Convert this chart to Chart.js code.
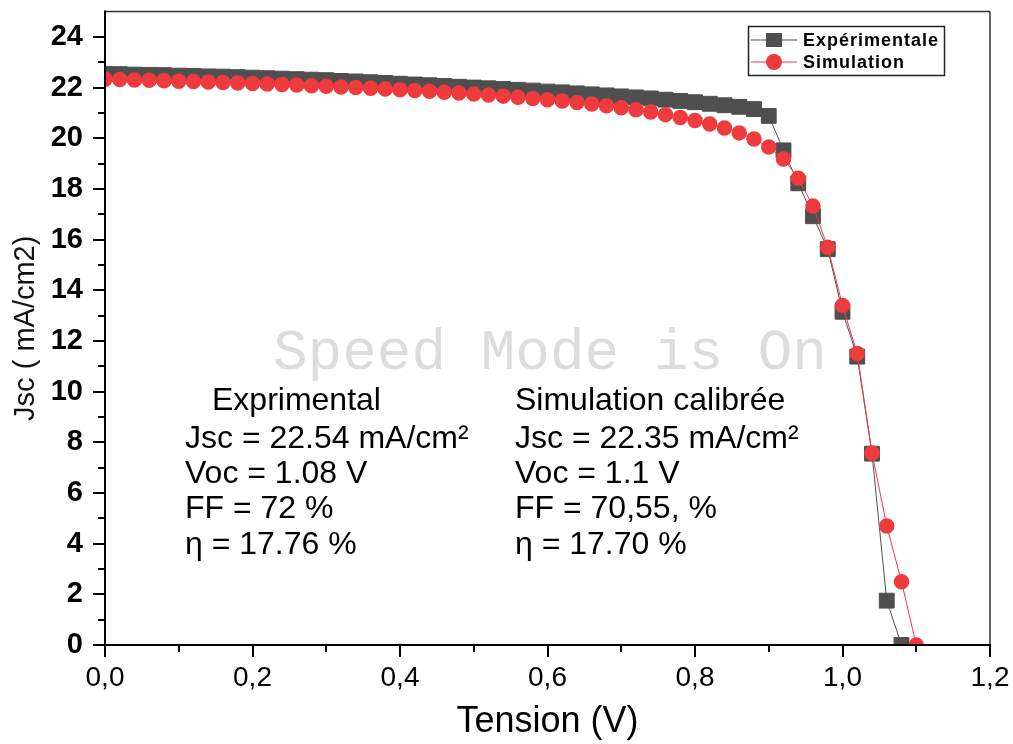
<!DOCTYPE html>
<html>
<head>
<meta charset="utf-8">
<title>Jsc - Tension</title>
<script src="https://cdn.jsdelivr.net/npm/chart.js@4.4.0/dist/chart.umd.min.js"></script>
<style>
  html, body { margin: 0; padding: 0; background: #fff; }
</style>
</head>
<body>
<canvas id="myChart" width="1013" height="744"></canvas>
<script>
const voltageExp = [0.00, 0.02, 0.04, 0.06, 0.08, 0.10, 0.12, 0.14, 0.16, 0.18,
  0.20, 0.22, 0.24, 0.26, 0.28, 0.30, 0.32, 0.34, 0.36, 0.38,
  0.40, 0.42, 0.44, 0.46, 0.48, 0.50, 0.52, 0.54, 0.56, 0.58,
  0.60, 0.62, 0.64, 0.66, 0.68, 0.70, 0.72, 0.74, 0.76, 0.78,
  0.80, 0.82, 0.84, 0.86, 0.88, 0.90, 0.92, 0.94, 0.96, 0.98,
  1.00, 1.02, 1.04, 1.06, 1.08];
const jscExp = [22.54, 22.53, 22.51, 22.50, 22.49, 22.47, 22.46, 22.44, 22.43, 22.41,
  22.39, 22.37, 22.35, 22.33, 22.31, 22.29, 22.26, 22.24, 22.21, 22.18,
  22.15, 22.12, 22.09, 22.06, 22.03, 22.00, 21.97, 21.94, 21.91, 21.88,
  21.84, 21.81, 21.77, 21.73, 21.69, 21.65, 21.61, 21.57, 21.52, 21.47,
  21.42, 21.36, 21.30, 21.24, 21.15, 20.88, 19.52, 18.22, 16.92, 15.62,
  13.15, 11.38, 7.55, 1.75, 0.00];

const voltageSim = [0.00, 0.02, 0.04, 0.06, 0.08, 0.10, 0.12, 0.14, 0.16, 0.18,
  0.20, 0.22, 0.24, 0.26, 0.28, 0.30, 0.32, 0.34, 0.36, 0.38,
  0.40, 0.42, 0.44, 0.46, 0.48, 0.50, 0.52, 0.54, 0.56, 0.58,
  0.60, 0.62, 0.64, 0.66, 0.68, 0.70, 0.72, 0.74, 0.76, 0.78,
  0.80, 0.82, 0.84, 0.86, 0.88, 0.90, 0.92, 0.94, 0.96, 0.98,
  1.00, 1.02, 1.04, 1.06, 1.08, 1.10];
const jscSim = [22.33, 22.32, 22.30, 22.29, 22.27, 22.25, 22.24, 22.22, 22.20, 22.18,
  22.16, 22.14, 22.12, 22.10, 22.07, 22.05, 22.02, 22.00, 21.97, 21.94,
  21.91, 21.88, 21.85, 21.81, 21.78, 21.74, 21.70, 21.66, 21.62, 21.57,
  21.52, 21.47, 21.41, 21.35, 21.28, 21.20, 21.12, 21.03, 20.93, 20.82,
  20.70, 20.56, 20.40, 20.21, 19.97, 19.65, 19.18, 18.42, 17.32, 15.70,
  13.40, 11.50, 7.58, 4.70, 2.50, 0.00];

const xMajorTicks = [0, 0.2, 0.4, 0.6, 0.8, 1.0, 1.2];
const xMinorTicks = [0.1, 0.3, 0.5, 0.7, 0.9, 1.1];
const yMajorTicks = [0, 2, 4, 6, 8, 10, 12, 14, 16, 18, 20, 22, 24];
const yMinorTicks = [1, 3, 5, 7, 9, 11, 13, 15, 17, 19, 21, 23];

const legendLabels = ['Expérimentale', 'Simulation'];
const expInfo = ['Exprimental', 'Jsc = 22.54 mA/cm²', 'Voc = 1.08 V', 'FF = 72 %', 'η = 17.76 %'];
const simInfo = ['Simulation calibrée', 'Jsc = 22.35 mA/cm²', 'Voc = 1.1 V', 'FF = 70,55, %', 'η = 17.70 %'];
const watermark = 'Speed Mode is On';

const GRAY = '#4f4f4f';
const RED = '#ef3b3d';
const SANS = "'Liberation Sans', Arial, sans-serif";

function toPoints(xs, ys) {
  return xs.map((v, i) => ({ x: v, y: ys[i] }));
}

function line(ctx, x1, y1, x2, y2) {
  ctx.beginPath();
  ctx.moveTo(x1, y1);
  ctx.lineTo(x2, y2);
  ctx.stroke();
}

// drop the extra room chart.js keeps for half tick labels
function noLabelPadding(scale) {
  scale.paddingTop = 0;
  scale.paddingBottom = 0;
  scale.paddingLeft = 0;
  scale.paddingRight = 0;
}

const decorPlugin = {
  id: 'decor',
  beforeDatasetsDraw(chart) {
    const ctx = chart.ctx;
    ctx.save();
    ctx.font = "58px 'Liberation Mono', 'Courier New', monospace";
    let w = ctx.measureText(watermark).width;
    let size = 58 * 554 / w;
    ctx.font = size.toFixed(1) + "px 'Liberation Mono', 'Courier New', monospace";
    ctx.fillStyle = '#dcdcdc';
    ctx.textBaseline = 'alphabetic';
    ctx.fillText(watermark, 273, 369);
    ctx.restore();
  },
  afterDraw(chart) {
    const { ctx, chartArea: area, scales: { x, y } } = chart;
    ctx.save();

    // frame: thin top/right, heavy left/bottom
    ctx.strokeStyle = '#333';
    ctx.lineWidth = 1.5;
    line(ctx, area.left, area.top, area.right, area.top);
    line(ctx, area.right, area.top, area.right, area.bottom);
    ctx.strokeStyle = '#000';
    ctx.lineWidth = 2;
    line(ctx, area.left, area.top - 1, area.left, area.bottom + 1);
    line(ctx, area.left - 1, area.bottom, area.right + 1, area.bottom);

    // outward ticks
    xMajorTicks.forEach(v => {
      const px = Math.round(x.getPixelForValue(v));
      line(ctx, px, area.bottom, px, area.bottom + 12);
    });
    xMinorTicks.forEach(v => {
      const px = Math.round(x.getPixelForValue(v));
      line(ctx, px, area.bottom, px, area.bottom + 7);
    });
    yMajorTicks.forEach(v => {
      const py = Math.round(y.getPixelForValue(v));
      line(ctx, area.left, py, area.left - 12, py);
    });
    yMinorTicks.forEach(v => {
      const py = Math.round(y.getPixelForValue(v));
      line(ctx, area.left, py, area.left - 7, py);
    });

    // legend box
    ctx.strokeStyle = '#222';
    ctx.lineWidth = 1.5;
    ctx.strokeRect(748.5, 26.5, 196, 49);
    const rows = [40, 62];
    ctx.lineWidth = 1;
    ctx.strokeStyle = GRAY;
    line(ctx, 751, rows[0], 797, rows[0]);
    ctx.fillStyle = GRAY;
    ctx.fillRect(766, rows[0] - 7, 16, 14);
    ctx.strokeStyle = RED;
    line(ctx, 751, rows[1], 797, rows[1]);
    ctx.fillStyle = RED;
    ctx.beginPath();
    ctx.arc(774, rows[1], 8, 0, Math.PI * 2);
    ctx.fill();

    ctx.fillStyle = '#000';
    ctx.font = 'bold 18px ' + SANS;
    ctx.letterSpacing = '1px';
    ctx.textBaseline = 'middle';
    legendLabels.forEach((t, i) => ctx.fillText(t, 803, rows[i] + 1));
    ctx.letterSpacing = '0px';

    // parameter blocks
    ctx.font = '32px ' + SANS;
    ctx.textBaseline = 'alphabetic';
    const baselines = [410, 448, 483, 518, 554];
    expInfo.forEach((t, i) => ctx.fillText(t, i === 0 ? 212 : 185, baselines[i]));
    simInfo.forEach((t, i) => ctx.fillText(t, 515, baselines[i]));

    ctx.restore();
  }
};

Chart.defaults.font.family = SANS;
Chart.defaults.color = '#000';

const config = {
  type: 'scatter',
  data: {
    datasets: [
      {
        label: legendLabels[0],
        data: toPoints(voltageExp, jscExp),
        showLine: true,
        borderColor: GRAY,
        borderWidth: 1,
        backgroundColor: GRAY,
        pointStyle: 'rect',
        pointRadius: 10.5,
        pointBorderWidth: 1,
        pointBorderColor: GRAY,
        pointBackgroundColor: GRAY,
        clip: 0,
        order: 2
      },
      {
        label: legendLabels[1],
        data: toPoints(voltageSim, jscSim),
        showLine: true,
        borderColor: RED,
        borderWidth: 1,
        backgroundColor: RED,
        pointStyle: 'circle',
        pointRadius: 7,
        pointBorderWidth: 1.5,
        pointBorderColor: RED,
        pointBackgroundColor: RED,
        clip: 0,
        order: 1
      }
    ]
  },
  options: {
    responsive: false,
    animation: false,
    devicePixelRatio: 1,
    layout: { padding: { top: 11, right: 23, left: 0, bottom: 0 } },
    plugins: {
      legend: { display: false },
      tooltip: { enabled: false }
    },
    scales: {
      x: {
        type: 'linear',
        position: 'bottom',
        min: 0,
        max: 1.2,
        grid: { display: false, drawTicks: false },
        border: { display: false },
        ticks: {
          stepSize: 0.2,
          includeBounds: false,
          padding: 16,
          font: { size: 28 },
          color: '#000',
          callback: (v) => v.toFixed(1).replace('.', ',')
        },
        title: {
          display: true,
          text: 'Tension (V)',
          font: { size: 36 },
          color: '#000',
          padding: { top: 0, bottom: 0 }
        },
        afterFit: (scale) => { scale.height = 99; noLabelPadding(scale); }
      },
      y: {
        type: 'linear',
        min: 0,
        max: 25,
        grid: { display: false, drawTicks: false },
        border: { display: false },
        ticks: {
          stepSize: 2,
          includeBounds: false,
          padding: 22,
          font: { size: 29, weight: 'bold' },
          color: '#000',
          callback: (v) => (v % 2 === 0 ? String(v) : '')
        },
        title: {
          display: true,
          text: 'Jsc ( mA/cm2)',
          font: { size: 29 },
          color: '#111',
          padding: { top: 9, bottom: 0 }
        },
        afterFit: (scale) => { scale.width = 105; noLabelPadding(scale); }
      }
    }
  },
  plugins: [decorPlugin]
};

const myChart = new Chart(document.getElementById('myChart'), config);
</script>
</body>
</html>
